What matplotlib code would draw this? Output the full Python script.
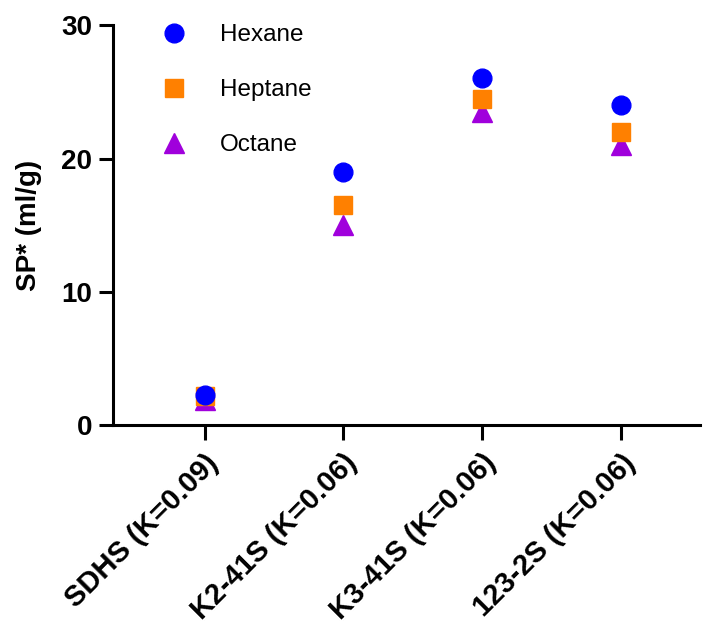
import matplotlib
matplotlib.use("Agg")
import matplotlib.pyplot as plt

plt.rcParams['font.family'] = ['Liberation Sans', 'DejaVu Sans']

categories = ["SDHS (K=0.09)", "K2-41S (K=0.06)", "K3-41S (K=0.06)", "123-2S (K=0.06)"]
hexane = [2.3, 19.0, 26.0, 24.0]
heptane = [2.2, 16.5, 24.5, 22.0]
octane = [1.9, 15.0, 23.5, 21.0]
y_ticks = [0, 10, 20, 30]

fig = plt.figure(figsize=(7.10, 6.29), dpi=100)
ax = fig.add_axes([0.159, 0.324, 0.827, 0.636])

x = list(range(len(categories)))
h_oct, = ax.plot(x, octane, linestyle='none', marker='^', markersize=14.5,
                 color='#a000dc', label='Octane', zorder=3, clip_on=False)
h_hep, = ax.plot(x, heptane, linestyle='none', marker='s', markersize=13.5,
                 color='#ff8000', label='Heptane', zorder=4, clip_on=False)
h_hex, = ax.plot(x, hexane, linestyle='none', marker='o', markersize=13.5,
                 color='#0000ff', label='Hexane', zorder=5, clip_on=False)

ax.set_xlim(-0.66, 3.57)
ax.set_ylim(0, 30)
ax.set_yticks(y_ticks)
ax.set_yticklabels([str(t) for t in y_ticks], fontsize=20, fontweight='bold')
ax.set_xticks(x)
ax.set_xticklabels(categories, rotation=45, ha='right', rotation_mode='anchor',
                   fontsize=21, fontweight='bold')
ax.set_ylabel("SP* (ml/g)", fontsize=20, fontweight='bold', labelpad=14)

for side in ('top', 'right'):
    ax.spines[side].set_visible(False)
for side in ('left', 'bottom'):
    ax.spines[side].set_linewidth(2.2)
ax.tick_params(axis='y', length=10, width=2.2, direction='out', pad=5)
ax.tick_params(axis='x', length=11, width=2.2, direction='out', pad=6)

ax.legend(handles=[h_hex, h_hep, h_oct], loc='upper left',
          bbox_to_anchor=(0.063, 1.033), frameon=False, fontsize=17.5,
          handlelength=1, handletextpad=1.39, labelspacing=1.36,
          numpoints=1, borderpad=0)

fig.savefig("out.png", dpi=100)
